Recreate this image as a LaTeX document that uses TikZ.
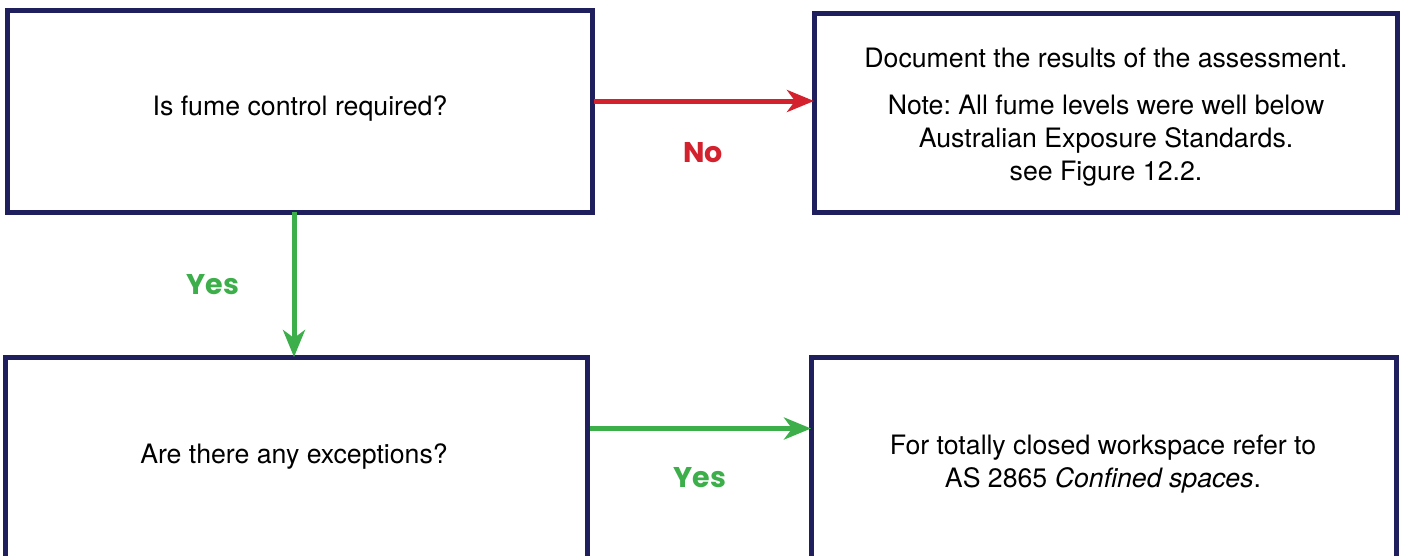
\documentclass[tikz,border=0pt]{standalone}
\usepackage{fontspec}
\setmainfont{TeX Gyre Heros}
\newfontfamily\lblfont{Poppins}
\usetikzlibrary{arrows.meta}
\definecolor{navy}{HTML}{1F1F5E}
\definecolor{nored}{HTML}{D3222E}
\definecolor{yesgreen}{HTML}{3DAF4A}
\frenchspacing
\begin{document}
\begin{tikzpicture}[x=1pt,y=-1pt,
  box/.style={draw=navy, line width=5pt, inner sep=0pt, outer sep=0pt, fill=white},
  txt/.style={align=center, font=\fontsize{26.7}{33}\selectfont, inner sep=0pt},
  lbl/.style={font=\lblfont\bfseries\fontsize{28.5}{32}\selectfont, inner sep=0pt},
  conn/.style={line width=5pt, -{Stealth[length=27pt, width=22pt, inset=8pt]}}]
\useasboundingbox (0,0) rectangle (1402,555);
\clip (0,0) rectangle (1402,555);
\fill[white] (0,0) rectangle (1402,555);
% boxes
\node[box, minimum width=585pt, minimum height=202pt] (A) at (299.5,111) {};
\node[box, minimum width=583pt, minimum height=199pt] (B) at (1105.5,112.5) {};
\node[box, minimum width=582pt, minimum height=243pt] (C) at (296,478.5) {};
\node[box, minimum width=585pt, minimum height=243pt] (D) at (1103.5,478.5) {};
% texts
\node[txt] (ta) at (300,109) {Is fume control required?};
\node[txt, anchor=north] (tb) at (1106,48) {Document the results of the assessment.\\[14pt]Note: All fume levels were well below\\Australian Exposure Standards.\\see Figure 12.2.};
\node[txt] (tc) at (294,457) {Are there any exceptions?};
\node[txt] (td) at (1103,464.5) {For totally closed workspace refer to\\AS 2865 \textit{Confined spaces}.};
% connectors
\coordinate (r1) at ([xshift=2pt,yshift=10pt]A.east);
\draw[conn, nored] (r1) -- (r1 -| B.west);
\coordinate (g1) at ([xshift=-5.5pt]A.south);
\draw[conn, yesgreen] (g1) -- (g1 |- C.north);
\coordinate (g2) at ([xshift=3pt,yshift=50pt]C.east);
\draw[conn, yesgreen] (g2) -- (g2 -| D.west);
% labels
\node[lbl, text=nored] (lno) at (703,153) {No};
\node[lbl, text=yesgreen] (lyes1) at (213,285) {Yes};
\node[lbl, text=yesgreen] (lyes2) at (700,478) {Yes};
\end{tikzpicture}
\end{document}
